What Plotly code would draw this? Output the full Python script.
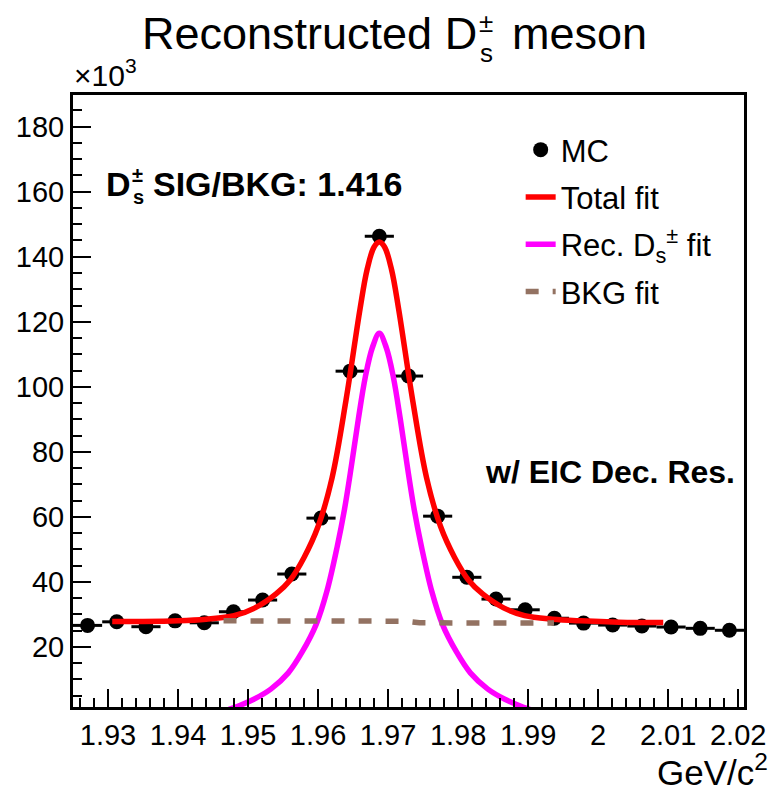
import plotly.graph_objects as go

# ---------------- data (values in units of 10^3) ----------------
bin_centers = [1.92708, 1.93125, 1.93542, 1.93958, 1.94375, 1.94792, 1.95208, 1.95625,
               1.96042, 1.96458, 1.96875, 1.97292, 1.97708, 1.98125, 1.98542, 1.98958,
               1.99375, 1.99792, 2.00208, 2.00625, 2.01042, 2.01458, 2.01875]
mc_counts = [26.6, 27.7, 26.2, 28.0, 27.4, 30.8, 34.4, 42.4, 59.6, 104.8, 146.3, 103.3,
             60.2, 41.4, 34.7, 31.4, 28.8, 27.3, 26.7, 26.4, 26.1, 25.7, 25.1]
bin_half_width = [0.00208] * len(bin_centers)

total_fit_mass = [1.9306, 1.935, 1.940, 1.944, 1.948, 1.951, 1.954, 1.956, 1.958, 1.960,
                  1.962, 1.964, 1.966, 1.967, 1.968, 1.96875, 1.9695, 1.9705, 1.9715,
                  1.9735, 1.9755, 1.9775, 1.9795, 1.9815, 1.9835, 1.9865, 1.9895, 1.9935,
                  1.9975, 2.003, 2.0093]
total_fit_vals = [27.8, 27.8, 28.0, 28.5, 29.6, 32.0, 36.3, 40.5, 47.5, 57.0,
                  72.0, 96.0, 124.0, 136.0, 143.0, 144.5, 143.0, 136.0, 124.0,
                  96.0, 72.0, 57.0, 47.5, 40.5, 36.3, 32.0, 29.6, 28.5,
                  28.0, 27.6, 27.5]

sig_fit_mass = [1.94725, 1.94825, 1.95075, 1.95325, 1.95575, 1.95775, 1.95975, 1.96125,
                1.96275, 1.96375, 1.96475, 1.96575, 1.96675, 1.96775, 1.96875, 1.96975,
                1.97075, 1.97175, 1.97275, 1.97375, 1.97475, 1.97625, 1.97775, 1.97975,
                1.98175, 1.98425, 1.98675, 1.98925, 1.99025]
sig_fit_vals = [0.8, 1.5, 3.8, 7.0, 12.0, 18.5, 27.0, 37.0, 51.0, 62.0, 75.5, 90.0, 103.0,
                112.0, 116.5, 112.0, 103.0, 90.0, 75.5, 62.0, 51.0, 37.0, 27.0, 18.5, 12.0,
                7.0, 3.8, 1.5, 0.8]

bkg_fit_mass = [1.9465, 1.9600, 1.9725, 1.9745, 1.9937]
bkg_fit_vals = [28.0, 28.0, 27.9, 27.4, 27.3]

x_tick_vals = [1.93, 1.94, 1.95, 1.96, 1.97, 1.98, 1.99, 2.00, 2.01, 2.02]
x_tick_text = ["1.93", "1.94", "1.95", "1.96", "1.97", "1.98", "1.99", "2", "2.01", "2.02"]
y_tick_vals = [20, 40, 60, 80, 100, 120, 140, 160, 180]
y_tick_text = ["20", "40", "60", "80", "100", "120", "140", "160", "180"]

x_range = [1.925, 2.0208333]
y_range = [1.5, 189.75]

FONT = "Liberation Sans, Arial, Helvetica, sans-serif"

# ---------------- figure ----------------
W, H = 778, 793
L, R, T, B = 73, 26, 95, 86
PW, PH = W - L - R, H - T - B


def px(xp):
    return (xp - L) / PW


def py(yp):
    return 1 - (yp - T) / PH


fig = go.Figure()

fig.add_trace(go.Scatter(
    x=bin_centers, y=mc_counts, mode="markers", name="MC",
    marker=dict(color="black", size=15, symbol="circle"),
    error_x=dict(type="data", array=bin_half_width, color="black", thickness=3, width=0),
    legendgroup="a",
))
fig.add_trace(go.Scatter(
    x=total_fit_mass, y=total_fit_vals, mode="lines", name="Total fit",
    line=dict(color="#ff0000", width=5.5, shape="spline", smoothing=1.0),
    legendgroup="b",
))
fig.add_trace(go.Scatter(
    x=sig_fit_mass, y=sig_fit_vals, mode="lines", name="Rec. D<sub>s</sub><sup>±</sup> fit",
    line=dict(color="#ff00ff", width=5.5, shape="spline", smoothing=1.0),
    legendgroup="c",
))
fig.add_trace(go.Scatter(
    x=bkg_fit_mass, y=bkg_fit_vals, mode="lines", name="BKG fit",
    line=dict(color="#937262", width=5.5, dash="13px,14px"),
    legendgroup="d",
))

axis_common = dict(
    showline=True, linecolor="black", linewidth=3, mirror=True,
    ticks="inside", ticklen=18, tickwidth=2, tickcolor="black",
    showgrid=False, zeroline=False,
    tickfont=dict(family=FONT, size=29, color="black"),
)

fig.update_xaxes(range=x_range, tickvals=x_tick_vals, ticktext=x_tick_text,
                 minor=dict(dtick=0.002, tick0=1.93, ticks="inside", ticklen=9,
                            tickwidth=2, tickcolor="black"),
                 **axis_common)
fig.update_yaxes(range=y_range, tickvals=y_tick_vals, ticktext=y_tick_text,
                 minor=dict(dtick=5, tick0=0, ticks="inside", ticklen=9,
                            tickwidth=2, tickcolor="black"),
                 **axis_common)

ann = []
# title with stacked sub/superscript
ann.append(dict(text="Reconstructed D", x=px(483), y=py(34), xanchor="right", yanchor="middle",
                font=dict(family=FONT, size=45, color="black")))
ann.append(dict(text="±", x=px(483), y=py(23), xanchor="left", yanchor="middle",
                font=dict(family=FONT, size=26, color="black")))
ann.append(dict(text="s", x=px(484), y=py(53), xanchor="left", yanchor="middle",
                font=dict(family=FONT, size=26, color="black")))
ann.append(dict(text="meson", x=px(516), y=py(34), xanchor="left", yanchor="middle",
                font=dict(family=FONT, size=45, color="black")))
# x10^3
ann.append(dict(text="×10<sup>3</sup>", x=px(73), y=py(93), xanchor="left", yanchor="bottom",
                font=dict(family=FONT, size=30, color="black")))
# axis title
ann.append(dict(text="GeV/c<sup>2</sup>", x=px(777), y=py(793), xanchor="right", yanchor="bottom",
                font=dict(family=FONT, size=35, color="black")))
# SIG/BKG
ann.append(dict(text="<b>D</b>", x=px(133), y=py(184), xanchor="right", yanchor="middle",
                font=dict(family=FONT, size=34, color="black")))
ann.append(dict(text="<b>±</b>", x=px(132), y=py(175), xanchor="left", yanchor="middle",
                font=dict(family=FONT, size=20, color="black")))
ann.append(dict(text="<b>s</b>", x=px(133), y=py(197), xanchor="left", yanchor="middle",
                font=dict(family=FONT, size=20, color="black")))
ann.append(dict(text="<b>SIG/BKG: 1.416</b>", x=px(153), y=py(184), xanchor="left", yanchor="middle",
                font=dict(family=FONT, size=34, color="black")))
# w/ EIC Dec. Res.
ann.append(dict(text="<b>w/ EIC Dec. Res.</b>", x=px(744), y=py(472), xanchor="right", yanchor="middle",
                font=dict(family=FONT, size=32, color="black")))

for a in ann:
    a.update(xref="paper", yref="paper", showarrow=False, borderpad=0)

fig.update_layout(
    width=W, height=H, autosize=False,
    margin=dict(l=L, r=R, t=T, b=B, pad=0),
    paper_bgcolor="white", plot_bgcolor="white",
    annotations=ann,
    showlegend=True,
    legend=dict(x=px(526), y=py(123), xanchor="left", yanchor="top",
                bgcolor="rgba(0,0,0,0)", borderwidth=0,
                font=dict(family=FONT, size=31, color="black"),
                itemwidth=30, traceorder="grouped", tracegroupgap=4),
)

fig.write_html("out.html")
